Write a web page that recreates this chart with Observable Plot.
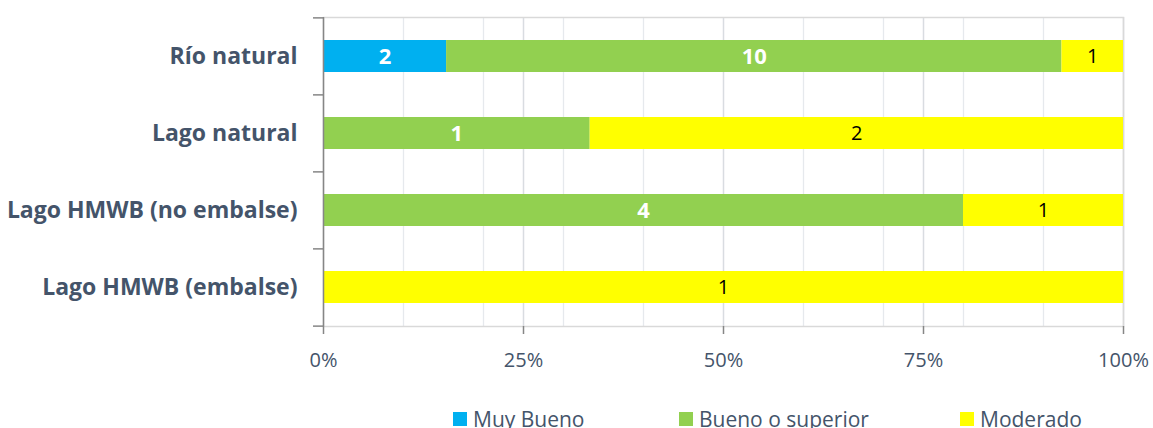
<!DOCTYPE html>
<html>
<head>
<meta charset="utf-8">
<script src="https://cdn.jsdelivr.net/npm/d3@7"></script>
<script src="https://cdn.jsdelivr.net/npm/@observablehq/plot@0.6"></script>
<style>
  html, body { margin: 0; padding: 0; background: #fff; overflow: hidden; }
  #wrap { position: relative; width: 1153px; height: 428px; font-family: "Open Sans", sans-serif; }
  #legend { position: absolute; top: 407px; left: 0; width: 1153px; height: 30px; }
  .item { position: absolute; top: 0; display: flex; align-items: flex-start; font-size: 21px; line-height: 24px; color: #44546A; white-space: nowrap; }
  .sw { width: 14px; height: 14px; margin-top: 5px; margin-right: 6px; }
</style>
</head>
<body>
<div id="wrap"></div>
<script>
const categories = ["Río natural", "Lago natural", "Lago HMWB (no embalse)", "Lago HMWB (embalse)"];
const seriesNames = ["Muy Bueno", "Bueno o superior", "Moderado"];
const seriesColors = ["#00B0F0", "#92D050", "#FFFF00"];
const muyBueno = [2, 0, 0, 0];
const buenoSuperior = [10, 1, 4, 0];
const moderado = [1, 2, 1, 1];
const xTicks = [0, 0.25, 0.5, 0.75, 1];
const gridMinor = [0.1, 0.2, 0.3, 0.4, 0.6, 0.7, 0.8, 0.9];
const gridMajor = [0.25, 0.5, 0.75, 1];

const seriesValues = [muyBueno, buenoSuperior, moderado];
const data = [];
categories.forEach((c, i) => {
  seriesNames.forEach((s, j) => {
    const v = seriesValues[j][i];
    if (v > 0) data.push({cat: c, series: s, value: v});
  });
});

const step = (326 - 17) / categories.length;

const chart = Plot.plot({
  width: 1153,
  height: 396,
  marginLeft: 323,
  marginRight: 30,
  marginTop: 17,
  marginBottom: 70,
  style: {fontFamily: "'Open Sans', sans-serif", background: "#fff"},
  x: {domain: [0, 1], axis: null},
  y: {domain: categories, paddingInner: 0.586, paddingOuter: 0.293, axis: null},
  color: {domain: seriesNames, range: seriesColors},
  marks: [
    Plot.ruleX(gridMinor, {stroke: "#E6E9ED", strokeWidth: 1.3}),
    Plot.ruleX(gridMajor, {stroke: "#D9DCE1", strokeWidth: 1.5}),
    Plot.frame({stroke: "#D9D9D9", strokeWidth: 1.5}),
    Plot.barX(data, Plot.stackX({offset: "normalize", x: "value", y: "cat", z: "series", fill: "series", inset: 0})),
    Plot.text(data, Plot.stackX({offset: "normalize", x: "value", y: "cat", z: "series",
      text: d => d.series === "Moderado" ? "" : String(d.value),
      fill: "white", fontWeight: "bold", fontSize: 22})),
    Plot.text(data, Plot.stackX({offset: "normalize", x: "value", y: "cat", z: "series",
      text: d => d.series === "Moderado" ? String(d.value) : "",
      fill: "black", fontSize: 20})),
    Plot.ruleX([0], {stroke: "#868686", strokeWidth: 1.5}),
    Plot.ruleY([0], {frameAnchor: "bottom", stroke: "#868686", strokeWidth: 1.5}),
    Plot.axisX({ticks: xTicks, tickFormat: d => Math.round(d * 100) + "%", tickSize: 8, tickPadding: 18,
      fontSize: 20, fill: "#44546A", stroke: "#868686", strokeWidth: 1.5, anchor: "bottom", label: null}),
    Plot.axisY({tickSize: 0, tickPadding: 26, fontSize: 23, fontWeight: "bold", fill: "#44546A",
      anchor: "left", label: null}),
    Plot.axisY({tickSize: 10, tickFormat: () => "", stroke: "#868686", strokeWidth: 1.5,
      dy: -step / 2, anchor: "left", label: null}),
    Plot.axisY({ticks: [categories[categories.length - 1]], tickSize: 10, tickFormat: () => "",
      stroke: "#868686", strokeWidth: 1.5, dy: step / 2, anchor: "left", label: null})
  ]
});

const wrap = document.getElementById("wrap");
wrap.appendChild(chart);

const legend = document.createElement("div");
legend.id = "legend";
const legendX = [453, 679, 960];
seriesNames.forEach((s, i) => {
  const item = document.createElement("div");
  item.className = "item";
  item.style.left = legendX[i] + "px";
  const sw = document.createElement("span");
  sw.className = "sw";
  sw.style.background = seriesColors[i];
  const label = document.createElement("span");
  label.textContent = s;
  item.appendChild(sw);
  item.appendChild(label);
  legend.appendChild(item);
});
wrap.appendChild(legend);
</script>
</body>
</html>
